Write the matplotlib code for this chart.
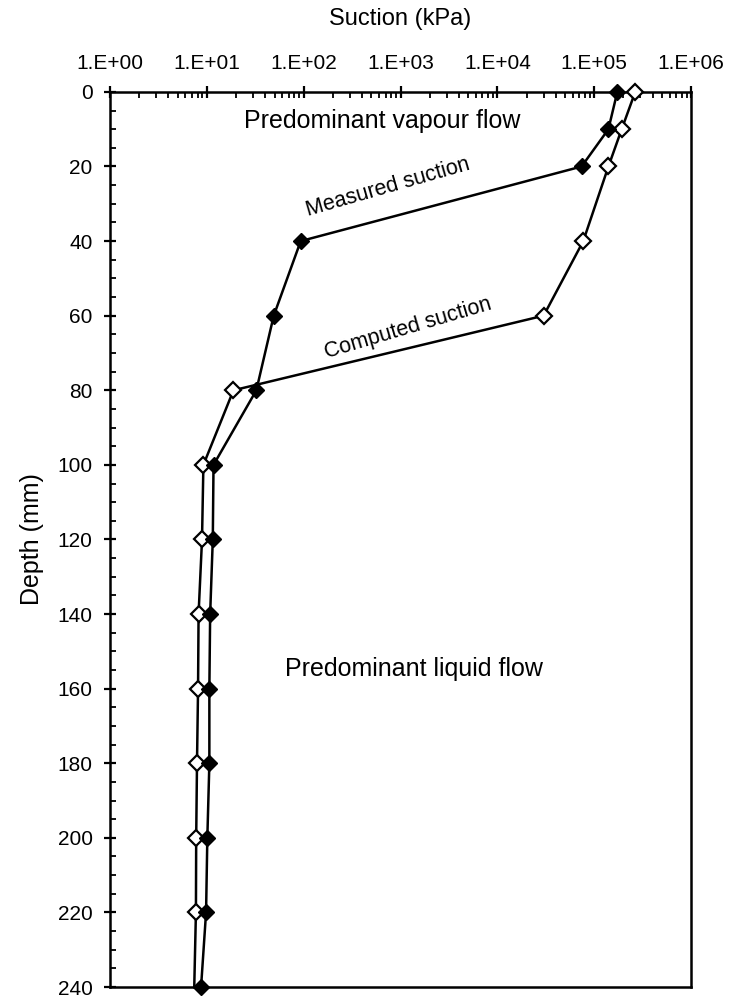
import numpy as np
import matplotlib
matplotlib.use('Agg')
import matplotlib.pyplot as plt
from matplotlib.ticker import FixedLocator, LogLocator, MultipleLocator, FuncFormatter, NullFormatter

plt.rcParams['font.family'] = ['Liberation Sans', 'DejaVu Sans']

# suction profiles (kPa) against depth (mm)
depth = [0, 10, 20, 40, 60, 80, 100, 120, 140, 160, 180, 200, 220, 240]
measured = [1.73e5, 1.4e5, 7.4e4, 93, 49, 32.4, 11.7, 11.5, 10.8, 10.6, 10.6, 10.1, 9.8, 8.7]
computed = [2.65e5, 1.92e5, 1.4e5, 7.7e4, 3.0e4, 18.8, 9.2, 8.9, 8.2, 8.1, 7.9, 7.75, 7.7, 7.4]

fig = plt.figure(figsize=(7.29, 9.99), dpi=100)
ax = fig.add_axes([0.151, 0.012, 0.797, 0.896])

# computed profile: open diamonds, last point drawn without a marker
ax.plot(computed, depth, color='black', lw=1.8, zorder=3, clip_on=False)
ax.plot(computed[:-1], depth[:-1], ls='none', marker='D', ms=8,
        mfc='white', mec='black', mew=1.6, zorder=3, clip_on=False)
# measured profile: filled diamonds
ax.plot(measured, depth, color='black', lw=1.8, marker='D', ms=8,
        mfc='black', mec='black', zorder=4, clip_on=False)

ax.set_xscale('log')
ax.set_xlim(1, 1e6)
ax.set_ylim(240, 0)

ax.xaxis.tick_top()
ax.xaxis.set_label_position('top')
ax.xaxis.set_major_locator(FixedLocator([10.0 ** k for k in range(7)]))
ax.xaxis.set_major_formatter(FuncFormatter(lambda v, p: '1.E+%02d' % round(np.log10(v))))
ax.xaxis.set_minor_locator(LogLocator(base=10, subs=np.arange(2, 10), numticks=20))
ax.xaxis.set_minor_formatter(NullFormatter())

ax.yaxis.set_major_locator(MultipleLocator(20))
ax.yaxis.set_minor_locator(MultipleLocator(5))

ax.tick_params(which='major', direction='inout', length=9, width=1.6, labelsize=15)
ax.tick_params(axis='x', which='major', pad=9)
ax.tick_params(axis='y', which='major', pad=8)
ax.tick_params(which='minor', direction='in', length=4, width=1.3)
for s in ax.spines.values():
    s.set_linewidth(1.8)

ax.set_xlabel('Suction (kPa)', fontsize=17, labelpad=21)
ax.set_ylabel('Depth (mm)', fontsize=18, labelpad=10)

ax.text(650, 7.8, 'Predominant vapour flow', fontsize=18, ha='center', va='center')
ax.text(1390, 154.7, 'Predominant liquid flow', fontsize=18, ha='center', va='center')
ax.text(740, 25.5, 'Measured suction', fontsize=15.5, ha='center', va='center', rotation=16)
ax.text(1180, 63.3, 'Computed suction', fontsize=15.5, ha='center', va='center', rotation=16.5)

fig.savefig('out.png', dpi=100)
